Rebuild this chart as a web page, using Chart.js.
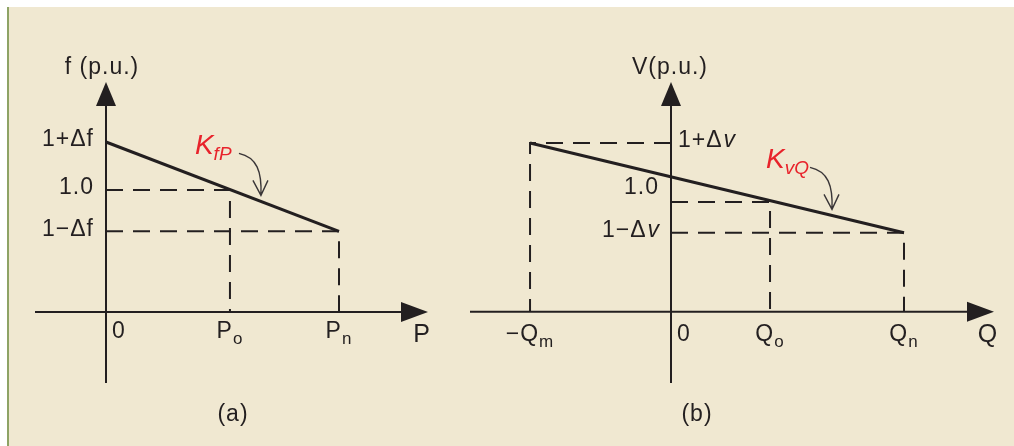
<!DOCTYPE html>
<html>
<head>
<meta charset="utf-8">
<script src="https://cdn.jsdelivr.net/npm/chart.js@4/dist/chart.umd.min.js"></script>
<style>
  html, body { margin: 0; padding: 0; background: #ffffff; }
  .frame {
    position: absolute; left: 7px; top: 7px; width: 1005px; height: 439px;
    background: #f0e8d1; border-left: 2px solid #8ea365;
  }
  #droop { position: absolute; left: 0; top: 0; }
</style>
</head>
<body>
<div class="frame"></div>
<canvas id="droop" width="1014" height="446"></canvas>
<script>
// panel (a): f-P droop
const pTickValues = [0, 0.532, 1]
const pTickMain = ['0', 'P', 'P']
const pTickSub = ['', 'o', 'n']
const fTickValues = [1.05, 1.0, 0.957]
const fTickLabels = ['1+Δf', '1.0', '1−Δf']
const fBase = 0.873
const droopP = [0, 1]
const droopF = [1.05, 0.957]
// which P tick drops to which f tick
const pGuides = [[1, 1], [2, 2]]

// panel (b): V-Q droop
const qTickValues = [-0.605, 0, 0.425, 1]
const qTickMain = ['−Q', '0', 'Q', 'Q']
const qTickSub = ['m', '', 'o', 'n']
const vTickValues = [1.05, 1.0, 0.974]
const vTickLabels = ['1+Δv', '1.0', '1−Δv']
const vBase = 0.907
const droopQ = [-0.605, 1]
const droopV = [1.05, 0.974]
const qGuides = [[0, 0], [2, 1], [3, 2]]

const W = 1014
const H = 446
const INK = '#231f20'
const RED = '#e8232b'
const FONT = '"Liberation Sans", Arial, sans-serif'
const TXT = 23
const SUB = 17

const xRange = (px0, perUnit) => ({ min: -px0 / perUnit, max: (W - px0) / perUnit })
const yRange = (pxRef, valRef, perUnit) => ({
  min: valRef - (H - pxRef) / perUnit,
  max: valRef + pxRef / perUnit,
})

const guideData = (guides, xs, ys, base) =>
  guides.map(([xi, yi]) => [
    { x: 0, y: ys[yi] },
    { x: xs[xi], y: ys[yi] },
    { x: xs[xi], y: base },
  ])

const solid = (data, xID, yID) => ({
  data, xAxisID: xID, yAxisID: yID, showLine: true, pointRadius: 0,
  borderColor: INK, borderWidth: 3, borderJoinStyle: 'round',
})
const dashed = (data, xID, yID) => ({
  data, xAxisID: xID, yAxisID: yID, showLine: true, pointRadius: 0,
  borderColor: INK, borderWidth: 2, borderDash: [17, 10],
})

const datasets = []
guideData(pGuides, pTickValues, fTickValues, fBase).forEach(d => datasets.push(dashed(d, 'xa', 'ya')))
guideData(qGuides, qTickValues, vTickValues, vBase).forEach(d => datasets.push(dashed(d, 'xb', 'yb')))
datasets.push(solid(droopP.map((p, i) => ({ x: p, y: droopF[i] })), 'xa', 'ya'))
datasets.push(solid(droopQ.map((q, i) => ({ x: q, y: droopV[i] })), 'xb', 'yb'))

const panels = [
  {
    x: 'xa', y: 'ya', base: fBase, top: 82, bottom: 383, left: 35, tip: 428,
    xTicks: pTickValues, xMain: pTickMain, xSub: pTickSub, xBaseline: 26,
    yTicks: fTickValues, yLabels: fTickLabels, yNudge: [0, 0, 0],
    title: 'f (p.u.)', titleDx: -4, axisName: 'P', caption: '(a)', captionX: 233,
    droopX: droopP, droopY: droopF, kAt: 0.665, kSub: 'fP',
  },
  {
    x: 'xb', y: 'yb', base: vBase, top: 82, bottom: 383, left: 470, tip: 994,
    xTicks: qTickValues, xMain: qTickMain, xSub: qTickSub, xBaseline: 29,
    yTicks: vTickValues, yLabels: vTickLabels, yNudge: [0, -12, 0],
    title: 'V(p.u.)', titleDx: -1, axisName: 'Q', caption: '(b)', captionX: 697,
    droopX: droopQ, droopY: droopV, kAt: 0.691, kSub: 'vQ',
  },
]

// text with a subscript, aligned on x
const subText = (ctx, main, sub, x, y, align, size, subSize, style) => {
  ctx.font = style + size + 'px ' + FONT
  const wm = ctx.measureText(main).width
  ctx.font = style + subSize + 'px ' + FONT
  const ws = sub ? ctx.measureText(sub).width : 0
  let x0 = x
  if (align === 'center') x0 = x - (wm + ws) / 2
  if (align === 'right') x0 = x - (wm + ws)
  ctx.textAlign = 'left'
  ctx.font = style + size + 'px ' + FONT
  ctx.fillText(main, x0, y)
  if (sub) {
    ctx.font = style + subSize + 'px ' + FONT
    ctx.fillText(sub, x0 + wm, y + 6)
  }
}

// "1+Δv" style label: italic v at the end
const tickText = (ctx, label, x, y, align) => {
  const italicTail = label.endsWith('v')
  const head = italicTail ? label.slice(0, -1) : label
  const tail = italicTail ? 'v' : ''
  ctx.font = TXT + 'px ' + FONT
  const wh = ctx.measureText(head).width
  ctx.font = 'italic ' + TXT + 'px ' + FONT
  const wt = tail ? ctx.measureText(tail).width : 0
  const x0 = align === 'right' ? x - wh - wt : x
  ctx.textAlign = 'left'
  ctx.font = TXT + 'px ' + FONT
  ctx.fillText(head, x0, y)
  if (tail) {
    ctx.font = 'italic ' + TXT + 'px ' + FONT
    ctx.fillText(tail, x0 + wh + 1, y)
  }
}

const diagram = {
  id: 'diagram',
  beforeDatasetsDraw(chart) {
    const ctx = chart.ctx
    ctx.save()
    ctx.strokeStyle = INK
    ctx.fillStyle = INK
    ctx.lineWidth = 2
    panels.forEach(pn => {
      const xs = chart.scales[pn.x]
      const ys = chart.scales[pn.y]
      const ox = xs.getPixelForValue(0)
      const oy = ys.getPixelForValue(pn.base)
      ctx.beginPath()
      ctx.moveTo(ox, pn.bottom)
      ctx.lineTo(ox, pn.top + 20)
      ctx.moveTo(pn.left, oy)
      ctx.lineTo(pn.tip - 22, oy)
      ctx.stroke()
      ctx.beginPath()
      ctx.moveTo(ox, pn.top)
      ctx.lineTo(ox - 10, pn.top + 24)
      ctx.lineTo(ox + 10, pn.top + 24)
      ctx.closePath()
      ctx.fill()
      ctx.beginPath()
      ctx.moveTo(pn.tip, oy)
      ctx.lineTo(pn.tip - 27, oy - 10)
      ctx.lineTo(pn.tip - 27, oy + 10)
      ctx.closePath()
      ctx.fill()
    })
    ctx.restore()
  },
  afterDatasetsDraw(chart) {
    const ctx = chart.ctx
    ctx.save()
    ctx.letterSpacing = '1px'
    panels.forEach(pn => {
      const xs = chart.scales[pn.x]
      const ys = chart.scales[pn.y]
      const ox = xs.getPixelForValue(0)
      const oy = ys.getPixelForValue(pn.base)
      ctx.fillStyle = INK
      ctx.textBaseline = 'alphabetic'

      // x ticks
      pn.xTicks.forEach((v, i) => {
        const px = xs.getPixelForValue(v)
        if (v === 0) subText(ctx, pn.xMain[i], '', px + 6, oy + pn.xBaseline, 'left', TXT, SUB, '')
        else subText(ctx, pn.xMain[i], pn.xSub[i], px, oy + pn.xBaseline, 'center', TXT, SUB, '')
      })
      // y ticks: label goes right of the axis when its guide comes from the left
      ctx.textBaseline = 'middle'
      pn.yTicks.forEach((v, i) => {
        const py = ys.getPixelForValue(v) - 2 + pn.yNudge[i]
        const fromLeft = pn.x === 'xb' && i === 0
        if (fromLeft) tickText(ctx, pn.yLabels[i], ox + 7, py, 'left')
        else tickText(ctx, pn.yLabels[i], ox - 12, py, 'right')
      })
      ctx.textBaseline = 'alphabetic'

      // axis names and caption
      ctx.textAlign = 'center'
      ctx.font = TXT + 'px ' + FONT
      ctx.fillText(pn.title, ox + pn.titleDx, 74)
      ctx.font = '25px ' + FONT
      ctx.fillText(pn.axisName, pn.tip - 6, oy + 30)
      ctx.font = '23px ' + FONT
      ctx.fillText(pn.caption, pn.captionX, 421)

      // slope label with a curved pointer
      const t = (pn.kAt - pn.droopX[0]) / (pn.droopX[1] - pn.droopX[0])
      const lx = xs.getPixelForValue(pn.kAt)
      const ly = ys.getPixelForValue(pn.droopY[0] + t * (pn.droopY[1] - pn.droopY[0]))
      ctx.fillStyle = RED
      ctx.letterSpacing = '0px'
      subText(ctx, 'K', pn.kSub, lx - 66, ly - 47, 'left', 28, 19, 'italic ')
      ctx.letterSpacing = '1px'
      ctx.strokeStyle = '#3a3638'
      ctx.lineWidth = 1.4
      ctx.beginPath()
      ctx.moveTo(lx - 22, ly - 48)
      ctx.bezierCurveTo(lx - 4, ly - 44, lx + 1, ly - 30, lx, ly - 6)
      ctx.moveTo(lx - 8, ly - 21)
      ctx.lineTo(lx, ly - 6)
      ctx.lineTo(lx + 7, ly - 21)
      ctx.stroke()
    })
    ctx.restore()
  },
}

const scaleOf = (axis, r) => ({
  type: 'linear', axis, display: false, min: r.min, max: r.max,
  position: axis === 'x' ? 'bottom' : 'left',
})

new Chart(document.getElementById('droop'), {
  type: 'scatter',
  data: { datasets },
  options: {
    responsive: false,
    animation: false,
    events: [],
    layout: { padding: 0 },
    plugins: { legend: { display: false }, tooltip: { enabled: false } },
    scales: {
      xa: scaleOf('x', xRange(106, 233)),
      ya: scaleOf('y', yRange(190, 1.0, 960)),
      xb: scaleOf('x', xRange(671, 233)),
      yb: scaleOf('y', yRange(202, 1.0, 1180)),
    },
  },
  plugins: [diagram],
})
</script>
</body>
</html>
